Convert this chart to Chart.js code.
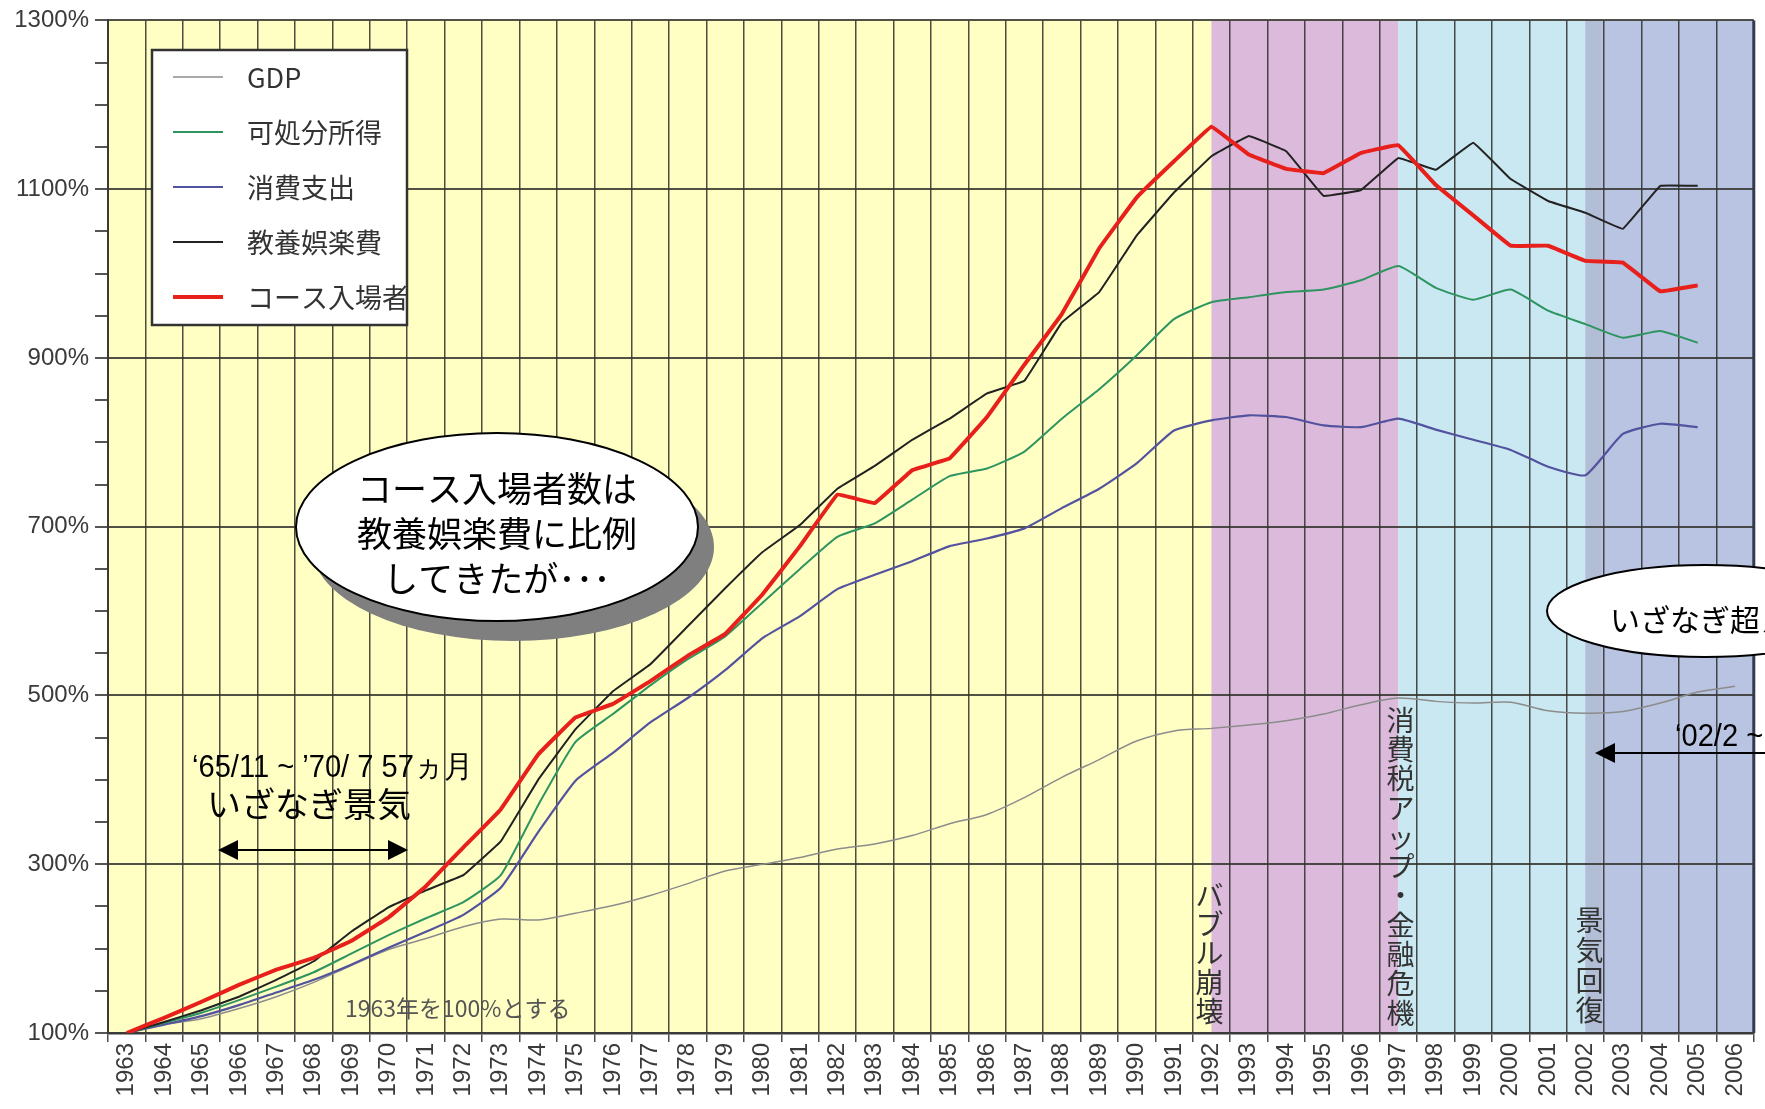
<!DOCTYPE html>
<html lang="ja">
<head>
<meta charset="utf-8">
<title>コース入場者数と家計指標の推移</title>
<script src="https://cdn.jsdelivr.net/npm/chart.js@4.4.1/dist/chart.umd.min.js"></script>
<style>
  html, body { margin: 0; padding: 0; background: #ffffff; }
  #wrap { width: 1765px; height: 1109px; }
</style>
</head>
<body>
<div id="wrap"><canvas id="chart" width="1765" height="1109"></canvas></div>
<script>
// Categories (1963 = 100%)
const years = ['1963', '1964', '1965', '1966', '1967', '1968', '1969', '1970', '1971', '1972',
    '1973', '1974', '1975', '1976', '1977', '1978', '1979', '1980', '1981', '1982',
    '1983', '1984', '1985', '1986', '1987', '1988', '1989', '1990', '1991', '1992',
    '1993', '1994', '1995', '1996', '1997', '1998', '1999', '2000', '2001', '2002',
    '2003', '2004', '2005', '2006'];

// Series values (%)
const gdp = [100, 110, 117, 129, 143, 160, 180, 199, 212, 226,
    235, 234, 242, 251, 263, 277, 292, 300, 308, 318,
    324, 334, 348, 359, 379, 403, 424, 446, 458, 461,
    465, 470, 478, 489, 497, 493, 491, 492, 482, 479,
    481, 491, 504, 511];
const income = [100, 112, 124, 139, 155, 172, 194, 216, 236, 255,
    287, 370, 445, 478, 512, 543, 570, 610, 650, 688,
    704, 732, 760, 769, 789, 828, 863, 903, 946, 966,
    972, 978, 981, 992, 1009, 983, 969, 981, 956, 940,
    924, 932, 918, null];
const consumption = [100, 110, 120, 133, 148, 163, 181, 201, 220, 240,
    272, 338, 399, 432, 468, 497, 530, 568, 594, 626,
    643, 659, 677, 686, 698, 722, 745, 775, 814, 826,
    832, 830, 820, 818, 828, 815, 803, 791, 771, 761,
    810, 822, 818, null];
const leisure = [100, 113, 127, 143, 163, 185, 220, 249, 269, 287,
    327, 400, 460, 505, 537, 582, 627, 670, 702, 745,
    772, 803, 828, 858, 873, 942, 978, 1045, 1096, 1139,
    1163, 1145, 1092, 1099, 1137, 1123, 1155, 1112, 1086, 1072,
    1053, 1104, 1104, null];
const visitors = [100, 118, 137, 157, 175, 189, 209, 237, 274, 320,
    365, 430, 474, 490, 517, 547, 573, 620, 677, 738,
    728, 767, 781, 830, 892, 952, 1030, 1090, 1133, 1174,
    1141, 1124, 1119, 1143, 1152, 1105, 1069, 1033, 1033, 1015,
    1013, 979, 986, null];

// Labelled y ticks (minor ticks every 50%)
const yLabelValues = [100, 300, 500, 700, 900, 1100, 1300];

// Background periods start at these years
const bandStarts = ['1963', '1992', '1997', '2002'];
const bandColors = ['#ffffc4', '#dcbadc', '#c9e8f2', '#b9c4e2'];

const jpFont = "'Noto Sans CJK JP', sans-serif";
const latinFont = "'Liberation Sans', Arial, sans-serif";

Chart.defaults.font.family = latinFont;

// Period colours behind the grid
const bandPlugin = {
    id: 'bands',
    beforeDraw(chart) {
        const { ctx, chartArea: a, scales: { x } } = chart;
        const edges = bandStarts.map(y => x.getPixelForValue(years.indexOf(y)));
        edges[0] = a.left;
        edges.push(a.right);
        ctx.save();
        bandColors.forEach((c, i) => {
            ctx.fillStyle = c;
            ctx.fillRect(edges[i], a.top, edges[i + 1] - edges[i], a.bottom - a.top);
        });
        ctx.fillStyle = '#b2bdd6';
        ctx.fillRect(edges[3], a.top, 16, a.bottom - a.top);
        ctx.restore();
    }
};

function arrowHead(ctx, x, y, dir) {
    ctx.beginPath();
    ctx.moveTo(x, y);
    ctx.lineTo(x - dir * 20, y - 10);
    ctx.lineTo(x - dir * 20, y + 10);
    ctx.closePath();
    ctx.fill();
}

function bubble(ctx, cx, cy, rx, ry, shadow) {
    if (shadow) {
        ctx.fillStyle = '#7f7f7f';
        ctx.beginPath();
        ctx.ellipse(cx + 16, cy + 20, rx, ry, 0, 0, Math.PI * 2);
        ctx.fill();
    }
    ctx.fillStyle = '#ffffff';
    ctx.strokeStyle = '#000000';
    ctx.lineWidth = 2;
    ctx.beginPath();
    ctx.ellipse(cx, cy, rx, ry, 0, 0, Math.PI * 2);
    ctx.fill();
    ctx.stroke();
}

// Notes, bubbles and legend box on top of the lines
const notesPlugin = {
    id: 'notes',
    afterDatasetsDraw(chart) {
        const { ctx, chartArea: a, scales: { x } } = chart;
        ctx.save();

        // right frame
        ctx.strokeStyle = '#343a4c';
        ctx.lineWidth = 3;
        ctx.beginPath();
        ctx.moveTo(a.right, a.top);
        ctx.lineTo(a.right, a.bottom);
        ctx.stroke();

        // vertical event labels
        const events = [
            { year: '1992', text: 'バブル崩壊', top: 895, step: 29, dx: -2 },
            { year: '1997', text: '消費税アップ・金融危機', top: 720, step: 29.3, dx: 2 },
            { year: '2002', text: '景気回復', top: 920, step: 30, dx: 4 }
        ];
        ctx.fillStyle = '#333333';
        ctx.font = '28px ' + jpFont;
        ctx.textAlign = 'center';
        ctx.textBaseline = 'middle';
        events.forEach(ev => {
            const cx = x.getPixelForValue(years.indexOf(ev.year)) + ev.dx;
            Array.from(ev.text).forEach((ch, i) => {
                ctx.fillText(ch, cx, ev.top + i * ev.step);
            });
        });

        // base note
        ctx.fillStyle = '#555555';
        ctx.font = '23px ' + jpFont;
        ctx.textAlign = 'left';
        ctx.fillText('1963年を100%とする', 345, 1008, 252);

        // izanagi boom
        ctx.fillStyle = '#000000';
        ctx.font = '31px ' + latinFont;
        const span1 = '‘65/11 ~ ’70/ 7 57ヵ月';
        const ratio = 281 / ctx.measureText(span1).width;
        ctx.fillText(span1, 192, 768, 281);
        ctx.font = '34px ' + jpFont;
        ctx.fillText('いざなぎ景気', 207, 804);
        ctx.lineWidth = 2;
        ctx.strokeStyle = '#000000';
        ctx.beginPath();
        ctx.moveTo(230, 850);
        ctx.lineTo(396, 850);
        ctx.stroke();
        arrowHead(ctx, 218, 850, -1);
        arrowHead(ctx, 408, 850, 1);

        // recent boom
        ctx.font = '31px ' + latinFont;
        const span2 = '‘02/2 ~';
        ctx.fillText(span2, 1675, 737, ctx.measureText(span2).width * ratio);
        ctx.beginPath();
        ctx.moveTo(1607, 753);
        ctx.lineTo(1770, 753);
        ctx.stroke();
        arrowHead(ctx, 1595, 753, -1);

        // speech bubbles
        bubble(ctx, 497, 527, 201, 94, true);
        ctx.fillStyle = '#000000';
        ctx.font = '35px ' + jpFont;
        ctx.textAlign = 'center';
        ctx.fillText('コース入場者数は', 497, 489);
        ctx.fillText('教養娯楽費に比例', 497, 534);
        ctx.fillText('してきたが･･･', 497, 579);

        bubble(ctx, 1705, 611, 158, 46, false);
        ctx.fillStyle = '#000000';
        ctx.font = '30px ' + jpFont;
        ctx.textAlign = 'left';
        ctx.fillText('いざなぎ超え', 1610, 620);

        // legend box
        ctx.fillStyle = '#ffffff';
        ctx.fillRect(152, 50, 255, 275);
        ctx.strokeStyle = '#333333';
        ctx.lineWidth = 2.5;
        ctx.strokeRect(152, 50, 255, 275);
        ctx.font = '27px ' + jpFont;
        ctx.textAlign = 'left';
        chart.data.datasets.forEach((ds, i) => {
            const y = 77 + i * 55;
            ctx.strokeStyle = ds.borderColor;
            ctx.lineWidth = ds.borderWidth;
            ctx.beginPath();
            ctx.moveTo(173, y);
            ctx.lineTo(223, y);
            ctx.stroke();
            ctx.fillStyle = '#333333';
            ctx.fillText(ds.label, 247, y + 1);
        });

        ctx.restore();
    }
};

const ctx = document.getElementById('chart').getContext('2d');
new Chart(ctx, {
    type: 'line',
    data: {
        labels: years,
        datasets: [
            { label: 'GDP', data: gdp, borderColor: '#8c8c8c', borderWidth: 1.5, tension: 0.3, order: 4 },
            { label: '可処分所得', data: income, borderColor: '#2e9460', borderWidth: 2, tension: 0.15, order: 2 },
            { label: '消費支出', data: consumption, borderColor: '#52529e', borderWidth: 2.2, tension: 0.15, order: 3 },
            { label: '教養娯楽費', data: leisure, borderColor: '#222222', borderWidth: 2, tension: 0.05, order: 1 },
            { label: 'コース入場者', data: visitors, borderColor: '#e8201c', borderWidth: 4, tension: 0.05, order: 0 }
        ]
    },
    options: {
        responsive: false,
        devicePixelRatio: 1,
        animation: false,
        layout: { padding: { top: 17, right: 10, left: 0, bottom: 0 } },
        elements: { point: { radius: 0 } },
        plugins: {
            legend: { display: false },
            tooltip: { enabled: false }
        },
        scales: {
            x: {
                offset: true,
                grid: {
                    offset: true,
                    color: 'rgba(45, 45, 40, 0.85)',
                    lineWidth: 1.5,
                    tickLength: 9
                },
                border: { color: '#3a3a3a', width: 2.5 },
                ticks: {
                    autoSkip: false,
                    minRotation: 90,
                    maxRotation: 90,
                    padding: 1,
                    color: '#3a3a3a',
                    font: { size: 24 }
                },
                afterFit(scale) { scale.height = 76; }
            },
            y: {
                min: 100,
                max: 1300,
                grid: {
                    color: c => (c.tick && yLabelValues.includes(c.tick.value)) ? 'rgba(50, 50, 45, 0.85)' : 'transparent',
                    lineWidth: 2,
                    tickColor: '#555555',
                    tickLength: 13
                },
                border: { color: '#3a3a3a', width: 2 },
                ticks: {
                    stepSize: 50,
                    autoSkip: false,
                    padding: 6,
                    color: '#3a3a3a',
                    font: { size: 24 },
                    callback: v => yLabelValues.includes(v) ? v + '%' : ''
                },
                afterFit(scale) { scale.width = 108; }
            }
        }
    },
    plugins: [bandPlugin, notesPlugin]
});
</script>
</body>
</html>
